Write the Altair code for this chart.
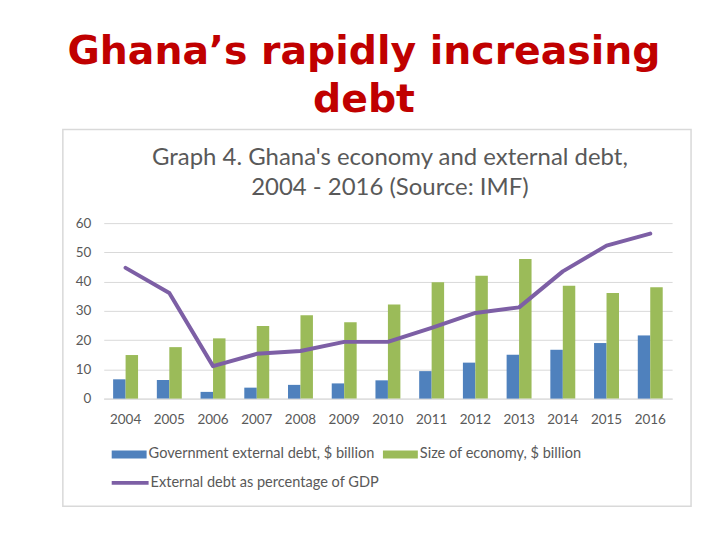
import altair as alt
import pandas as pd

# ---- data ----
years = ["2004", "2005", "2006", "2007", "2008", "2009", "2010",
         "2011", "2012", "2013", "2014", "2015", "2016"]
gov_debt = [6.6, 6.4, 2.3, 3.75, 4.7, 5.2, 6.25, 9.4, 12.3, 15.0, 16.7, 19.0, 21.6]
economy = [14.9, 17.6, 20.6, 24.8, 28.5, 26.1, 32.2, 39.8, 42.0, 47.7, 38.6, 36.1, 38.1]
debt_pct = [44.7, 36.1, 11.1, 15.3, 16.3, 19.4, 19.4, 24.2, 29.3, 31.2, 43.5, 52.3, 56.4]
y_ticks = [0, 10, 20, 30, 40, 50, 60]

series_gov = "Government external debt, $ billion"
series_eco = "Size of economy, $ billion"
series_pct = "External debt as percentage of GDP"

main_title = ["Ghana\u2019s rapidly increasing", "debt"]
inner_title = ["Graph 4. Ghana's economy and external debt,", "2004 - 2016 (Source: IMF)"]

BLUE = "#4F81BD"
GREEN = "#9BBB59"
PURPLE = "#7D5FA5"
GRAY = "#595959"
GRID = "#D9D9D9"
FONT = "Lato"

df = pd.DataFrame({"year": years, "gov": gov_debt, "eco": economy, "pct": debt_pct})

W, H = 570, 176

xenc = alt.X("year:N", title=None,
             scale=alt.Scale(paddingInner=0.43, paddingOuter=0.215),
             axis=alt.Axis(labelAngle=0, ticks=False, domain=True, domainColor=GRID,
                           labelPadding=14, labelColor=GRAY, labelFont=FONT, labelFontSize=13.5))
yscale = alt.Scale(domain=[0, 60])
yaxis = alt.Axis(values=y_ticks, ticks=False, domain=False, gridColor=GRID,
                 labelPadding=13, labelColor=GRAY, labelFont=FONT, labelFontSize=13.5,
                 labelOverlap=False)

base = alt.Chart(df)

LEG_FS = 14.6
bar_color_scale = alt.Scale(domain=[series_gov, series_eco], range=[BLUE, GREEN])
bar_legend = alt.Legend(title=None, orient="none", legendX=8, legendY=214,
                        direction="horizontal", padding=0,
                        symbolType="M-1,-0.23H1V0.23H-1Z", symbolSize=1225,
                        symbolStrokeWidth=0, symbolOpacity=1,
                        labelFont=FONT, labelFontSize=LEG_FS, labelColor=GRAY,
                        labelOffset=2, columnPadding=8, labelLimit=400)

bars_gov = base.transform_calculate(series=f"'{series_gov}'").mark_bar(
    width=12.5, xOffset=-6.25
).encode(
    x=xenc,
    y=alt.Y("gov:Q", title=None, scale=yscale, axis=yaxis),
    color=alt.Color("series:N", scale=bar_color_scale, legend=bar_legend),
)
bars_eco = base.transform_calculate(series=f"'{series_eco}'").mark_bar(
    width=12.5, xOffset=6.25
).encode(
    x=xenc,
    y=alt.Y("eco:Q", title=None, scale=yscale, axis=yaxis),
    color=alt.Color("series:N", scale=bar_color_scale, legend=bar_legend),
)
line = base.transform_calculate(lseries=f"'{series_pct}'").mark_line(
    strokeWidth=4, strokeCap="round", strokeJoin="round"
).encode(
    x=xenc,
    y=alt.Y("pct:Q", title=None, scale=yscale, axis=yaxis),
    stroke=alt.Stroke("lseries:N",
                      scale=alt.Scale(domain=[series_pct], range=[PURPLE]),
                      legend=alt.Legend(title=None, orient="none", legendX=6, legendY=240,
                                        padding=0, symbolType="stroke", symbolSize=1369,
                                        symbolStrokeWidth=4,
                                        labelFont=FONT, labelFontSize=LEG_FS, labelColor=GRAY,
                                        labelOffset=0, labelLimit=400)),
)

def text_layer(txt, x, y, size, color, weight, font):
    return alt.Chart(pd.DataFrame({"t": [txt]})).mark_text(
        align="center", baseline="alphabetic", fontSize=size, font=font,
        fontWeight=weight, color=color
    ).encode(x=alt.value(x), y=alt.value(y), text="t:N")

frame = alt.Chart(pd.DataFrame({"a": [0]})).mark_rect(
    filled=False, stroke=GRID, strokeWidth=1.5
).encode(x=alt.value(-41), x2=alt.value(589), y=alt.value(-94), y2=alt.value(284))

texts = [
    text_layer(main_title[0], 261, -160, 39.5, "#C00000", "bold", "DejaVu Sans"),
    text_layer(main_title[1], 261, -111, 39.5, "#C00000", "bold", "DejaVu Sans"),
    text_layer(inner_title[0], 287, -58, 24, GRAY, "normal", FONT),
    text_layer(inner_title[1], 287, -28, 24, GRAY, "normal", FONT),
]

chart = alt.layer(frame, bars_gov, bars_eco, line, *texts).properties(
    width=W, height=H,
    autosize=alt.AutoSizeParams(type="none"),
    padding={"left": 96, "top": 215, "right": 40, "bottom": 120},
    background="white",
).configure_view(stroke=None)

chart.save("out.html", embed_options={"renderer": "svg", "actions": False})
